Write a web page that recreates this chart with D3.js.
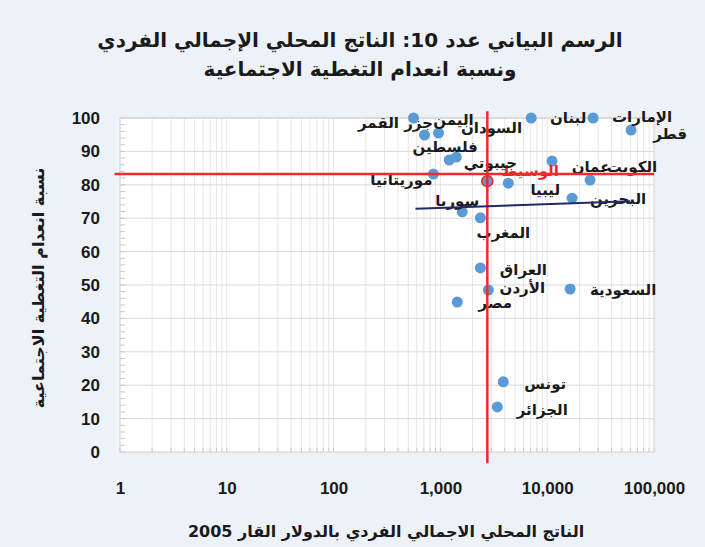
<!DOCTYPE html>
<html>
<head>
<meta charset="utf-8">
<script src="https://cdn.jsdelivr.net/npm/d3@7"></script>
<style>
  body { margin: 0; background: #edf2f8; }
  svg { display: block; }
  text { font-family: "Liberation Sans", "DejaVu Sans", sans-serif; font-weight: bold; fill: #1a1a1a; }
</style>
</head>
<body>
<div id="wrapper"></div>
<script>
// data
const countries = ["قطر", "الإمارات", "لبنان", "الكويت", "عمان", "البحرين", "السعودية", "ليبيا", "الوسيط",
  "المغرب", "سوريا", "العراق", "الأردن", "مصر", "تونس", "الجزائر", "جزر القمر", "اليمن", "السودان",
  "فلسطين", "جيبوتي", "موريتانيا"];
const gdpPerCapita = [61000, 26900, 7080, 25200, 11100, 17100, 16400, 4320, 2750,
  2370, 1600, 2370, 2810, 1440, 3880, 3410, 560, 710, 960,
  1210, 1410, 860];
const noCoverage = [96.4, 100, 100, 81.4, 87.1, 76.0, 48.8, 80.5, 81.1,
  70.1, 71.9, 55.1, 48.5, 44.9, 21.0, 13.5, 100, 94.9, 95.5,
  87.4, 88.3, 83.2];

const medianGdp = 2750;
const medianCoverage = 83.2;
const trendGdp = [584, 59700];
const trendCoverage = [72.8, 75.1];

const xTicks = [1, 10, 100, 1000, 10000, 100000];
const yTicks = [0, 10, 20, 30, 40, 50, 60, 70, 80, 90, 100];

const titleLines = ["الرسم البياني عدد 10: الناتج المحلي الإجمالي الفردي", "ونسبة انعدام التغطية الاجتماعية"];
const xTitle = "الناتج المحلي الاجمالي الفردي بالدولار القار 2005";
const yTitle = "نسبة انعدام التغطية الاجتماعية";

// label placement (centre of label relative to its dot, px)
const labelNudge = [[39, 4], [49, -1], [37, 0], [42, -13], [39, 6], [46, 1], [53, 1], [37, 7], [43, -10],
  [23, 15], [-5, -11], [43, 2], [34, -2], [38, 1], [42, 2], [45, 3], [-18, 5], [29, -15], [53, -5],
  [-4, -13], [34, 6], [-32, 6]];

// dimensions
const dimensions = {
  width: 705,
  height: 547,
  margin: { top: 118, right: 51, bottom: 95, left: 120 }
};
dimensions.boundedWidth = dimensions.width - dimensions.margin.left - dimensions.margin.right;
dimensions.boundedHeight = dimensions.height - dimensions.margin.top - dimensions.margin.bottom;

const svg = d3.select("#wrapper")
  .append("svg")
    .attr("width", dimensions.width)
    .attr("height", dimensions.height);

svg.append("rect")
    .attr("width", dimensions.width)
    .attr("height", dimensions.height)
    .attr("fill", "#edf2f8");

const bounds = svg.append("g")
    .attr("transform", `translate(${dimensions.margin.left}, ${dimensions.margin.top})`);

// scales
const xScale = d3.scaleLog()
  .domain([1, 100000])
  .range([0, dimensions.boundedWidth]);

const yScale = d3.scaleLinear()
  .domain([0, 100])
  .range([dimensions.boundedHeight, 0]);

// plot area
bounds.append("rect")
    .attr("width", dimensions.boundedWidth)
    .attr("height", dimensions.boundedHeight)
    .attr("fill", "#ffffff");

// vertical log gridlines (minor + major)
const logGrid = xScale.ticks().filter(d => d > 1 && d < 100000);
bounds.append("g")
  .selectAll("line")
  .data(logGrid)
  .join("line")
    .attr("x1", d => xScale(d))
    .attr("x2", d => xScale(d))
    .attr("y1", 0)
    .attr("y2", dimensions.boundedHeight)
    .attr("stroke", "#e6e6e6")
    .attr("stroke-width", 1);

// horizontal gridlines
bounds.append("g")
  .selectAll("line")
  .data(yTicks.filter(d => d > 0))
  .join("line")
    .attr("x1", 0)
    .attr("x2", dimensions.boundedWidth)
    .attr("y1", d => yScale(d))
    .attr("y2", d => yScale(d))
    .attr("stroke", "#d9d9d9")
    .attr("stroke-width", 1);

// y minor ticks
bounds.append("g")
  .selectAll("line")
  .data(d3.range(0, 101, 2))
  .join("line")
    .attr("x1", 0)
    .attr("x2", 5)
    .attr("y1", d => yScale(d))
    .attr("y2", d => yScale(d))
    .attr("stroke", "#c8c8c8");

// x minor ticks along bottom
bounds.append("g")
  .selectAll("line")
  .data(xScale.ticks())
  .join("line")
    .attr("x1", d => xScale(d))
    .attr("x2", d => xScale(d))
    .attr("y1", dimensions.boundedHeight)
    .attr("y2", dimensions.boundedHeight - 4)
    .attr("stroke", "#c8c8c8");

bounds.append("rect")
    .attr("width", dimensions.boundedWidth)
    .attr("height", dimensions.boundedHeight)
    .attr("fill", "none")
    .attr("stroke", "#cfcfcf");

// axis labels
const yAxis = d3.axisLeft(yScale).tickValues(yTicks).tickSize(0).tickPadding(20);
const yAxisGroup = bounds.append("g").call(yAxis);
yAxisGroup.select(".domain").remove();
yAxisGroup.selectAll("text")
    .style("font-size", "17px")
    .style("font-family", "'Liberation Sans', sans-serif")
    .attr("fill", "#1a1a1a");

const xAxis = d3.axisBottom(xScale).tickValues(xTicks).tickSize(0).tickPadding(30)
  .tickFormat(d3.format(","));
const xAxisGroup = bounds.append("g")
    .attr("transform", `translate(0, ${dimensions.boundedHeight})`)
    .call(xAxis);
xAxisGroup.select(".domain").remove();
xAxisGroup.selectAll("text")
    .style("font-size", "17px")
    .style("font-family", "'Liberation Sans', sans-serif")
    .attr("fill", "#1a1a1a");

// points
const points = countries.map((name, i) => ({
  name,
  gdp: gdpPerCapita[i],
  gap: noCoverage[i],
  nudge: labelNudge[i],
  isMedian: name === "الوسيط"
}));

bounds.append("g")
  .selectAll("circle")
  .data(points)
  .join("circle")
    .attr("cx", d => xScale(d.gdp))
    .attr("cy", d => yScale(d.gap))
    .attr("r", 5.5)
    .attr("fill", "#5b9bd5")
    .attr("stroke", d => d.isMedian ? "#e8262b" : "none")
    .attr("stroke-width", 1.5);

bounds.append("g")
  .selectAll("text")
  .data(points)
  .join("text")
    .attr("x", d => xScale(d.gdp) + d.nudge[0])
    .attr("y", d => yScale(d.gap) + d.nudge[1])
    .attr("dy", "0.35em")
    .attr("text-anchor", "middle")
    .style("font-size", "15px")
    .style("font-family", "'DejaVu Sans', sans-serif")
    .style("fill", d => d.isMedian ? "#e8262b" : "#1a1a1a")
    .text(d => d.name);

// median cross
bounds.append("line")
    .attr("x1", xScale(medianGdp))
    .attr("x2", xScale(medianGdp))
    .attr("y1", yScale(102))
    .attr("y2", yScale(-3.4))
    .attr("stroke", "#ee2a2a")
    .attr("stroke-width", 2.5);

bounds.append("line")
    .attr("x1", xScale(0.89))
    .attr("x2", xScale(100000))
    .attr("y1", yScale(medianCoverage))
    .attr("y2", yScale(medianCoverage))
    .attr("stroke", "#ee2a2a")
    .attr("stroke-width", 2.5);

// trend line
const trendLine = d3.line()
  .x(d => xScale(d[0]))
  .y(d => yScale(d[1]));

bounds.append("path")
    .attr("d", trendLine(d3.zip(trendGdp, trendCoverage)))
    .attr("fill", "none")
    .attr("stroke", "#1f2a6b")
    .attr("stroke-width", 2);

// titles
svg.append("g")
  .selectAll("text")
  .data(titleLines)
  .join("text")
    .attr("x", 360)
    .attr("y", (d, i) => 40 + i * 29)
    .attr("dy", "0.35em")
    .attr("text-anchor", "middle")
    .attr("direction", "rtl")
    .style("font-size", "20px")
    .style("font-family", "'DejaVu Sans', sans-serif")
    .text(d => d);

svg.append("text")
    .attr("x", 386)
    .attr("y", 531)
    .attr("dy", "0.35em")
    .attr("text-anchor", "middle")
    .attr("direction", "rtl")
    .style("font-size", "16px")
    .style("font-family", "'DejaVu Sans', sans-serif")
    .text(xTitle);

svg.append("text")
    .attr("transform", "translate(38, 288) rotate(-90)")
    .attr("dy", "0.35em")
    .attr("text-anchor", "middle")
    .attr("direction", "rtl")
    .style("font-size", "16px")
    .style("font-family", "'DejaVu Sans', sans-serif")
    .text(yTitle);
</script>
</body>
</html>
